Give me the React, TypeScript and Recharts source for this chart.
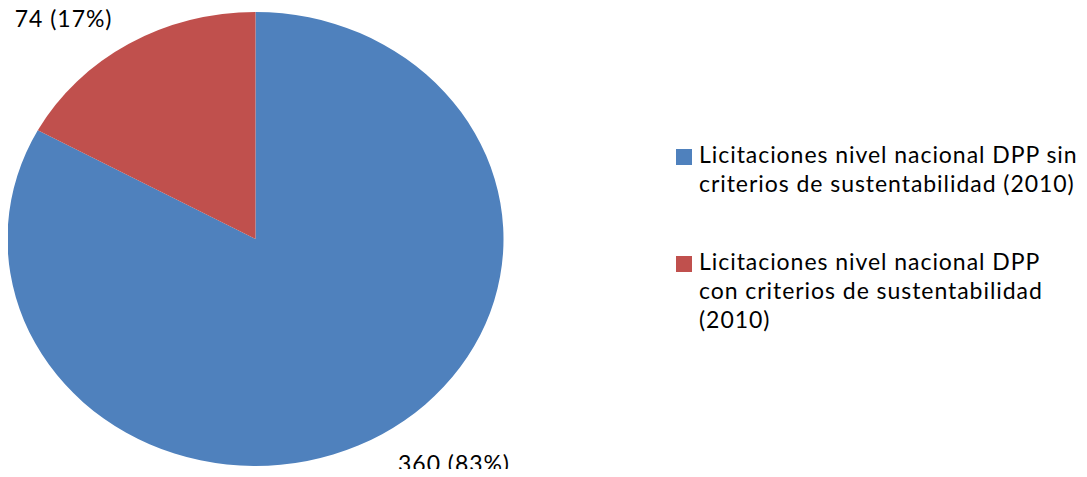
import { Pie, PieChart, Legend, Sector } from "recharts"

// Licitaciones DPP 2010
const categories = [
  "Licitaciones nivel nacional DPP sin criterios de sustentabilidad (2010)",
  "Licitaciones nivel nacional DPP con criterios de sustentabilidad (2010)",
]
const counts = [360, 74]
const percentLabels = ["83%", "17%"]
const colors = ["#4F81BD", "#C0504D"]

const data = categories.map((name, i) => ({
  name,
  value: counts[i],
  pct: percentLabels[i],
  fill: colors[i],
}))

const FONT = "Lato, 'Open Sans', sans-serif"
const FONT_SIZE = 23
const SPACING = 0.95
const RX = 248
const RY = 227
const squash = RY / RX

const RAD = Math.PI / 180

// Excel drew the pie slightly flattened, so squash each sector vertically
function EllipseSector(props: any) {
  const { cy } = props
  return (
    <g transform={`translate(0 ${cy}) scale(1 ${squash}) translate(0 ${-cy})`}>
      <Sector {...props} stroke="none" />
    </g>
  )
}

function renderLabel(props: any) {
  const { cx, cy, midAngle, payload } = props
  const c = Math.cos(midAngle * RAD)
  const s = Math.sin(midAngle * RAD)
  const px = cx + RX * c
  const py = cy - RY * s
  const left = c < 0
  const above = s > 0
  const x = px + (left ? -16.5 : 16)
  const y = above ? py - 17 : py + 37.5
  return (
    <text
      x={x}
      y={y}
      textAnchor={left ? "end" : "start"}
      fill="#000"
      fontSize={FONT_SIZE}
      fontFamily={FONT}
      letterSpacing={SPACING}
    >
      {`${payload.value} (${payload.pct})`}
    </text>
  )
}

function LegendContent() {
  return (
    <div style={{ fontFamily: FONT, fontSize: FONT_SIZE, letterSpacing: SPACING, color: "#000" }}>
      {data.map((entry, i) => (
        <div
          key={i}
          style={{ display: "flex", alignItems: "flex-start", marginBottom: 49 }}
        >
          <div
            style={{
              width: 16,
              height: 16,
              background: entry.fill,
              marginTop: 9,
              marginRight: 7,
              flexShrink: 0,
            }}
          />
          <div style={{ width: 383, lineHeight: "29px" }}>{entry.name}</div>
        </div>
      ))}
    </div>
  )
}

export default function App() {
  return (
    <div style={{ margin: -8 }}>
      <PieChart width={1087} height={477} margin={{ top: 0, right: 0, bottom: 0, left: 0 }}>
        <Pie
          data={data}
          dataKey="value"
          nameKey="name"
          cx={255.5}
          cy={239}
          outerRadius={RX}
          startAngle={90}
          endAngle={-270}
          shape={EllipseSector}
          label={renderLabel}
          labelLine={false}
          isAnimationActive={false}
        />
        <Legend
          layout="vertical"
          verticalAlign="top"
          align="right"
          content={LegendContent}
          wrapperStyle={{ left: 676, top: 140, width: 411 }}
        />
      </PieChart>
    </div>
  )
}
